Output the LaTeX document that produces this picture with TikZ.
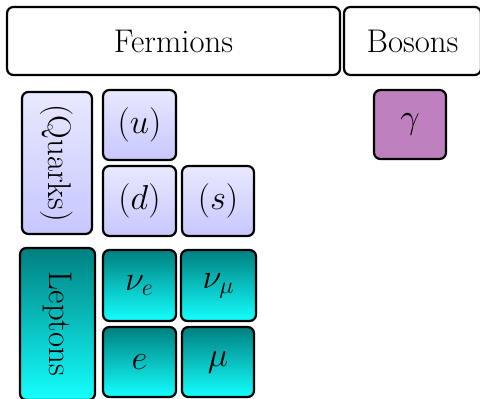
\documentclass[tikz,border=0pt]{standalone}
\begin{document}
\begin{tikzpicture}[x=0.5pt,y=-0.5pt,
  box/.style={draw=black,line width=1.1pt,rounded corners=3.2pt,inner sep=0pt,
    font=\fontsize{16.4pt}{19pt}\selectfont},
  title/.style={box,fill=white},
  quark/.style={box,top color=blue!9,bottom color=blue!22},
  lepton/.style={box,top color=teal,bottom color=cyan!92!white},
  boson/.style={box,fill=violet!50}]
\useasboundingbox (0,0) rectangle (480,399);
% headers
\node[title,minimum width=166.5pt,minimum height=34pt] (fermions) at (173.5,41) {Fermions};
\node[title,minimum width=68.5pt,minimum height=34pt] (bosons) at (412.5,41) {Bosons};
% quarks
\node[quark,minimum width=35pt,minimum height=71pt] (quarks) at (57,163) {\rotatebox{-90}{(Quarks)}};
\node[quark,minimum width=36.5pt,minimum height=35pt] (u) at (139.5,125) {$(u)$};
\node[quark,minimum width=36.5pt,minimum height=35pt] (d) at (139.5,201) {$(d)$};
\node[quark,minimum width=36pt,minimum height=35pt] (s) at (218,201) {$(s)$};
% leptons
\node[lepton,minimum width=37.5pt,minimum height=76pt] (leptons) at (57.5,324) {\rotatebox{-90}{Leptons}};
\node[lepton,minimum width=36.5pt,minimum height=35.5pt] (nue) at (139.5,285.5) {$\nu_e$};
\node[lepton,minimum width=37.5pt,minimum height=35.5pt] (numu) at (218.5,285.5) {$\nu_\mu$};
\node[lepton,minimum width=36.5pt,minimum height=35pt] (e) at (139.5,362) {$e$};
\node[lepton,minimum width=36pt,minimum height=35pt] (mu) at (218,362) {$\mu$};
% bosons
\node[boson,minimum width=36pt,minimum height=34.5pt] (gamma) at (410,124.5) {$\gamma$};
\end{tikzpicture}
\end{document}
